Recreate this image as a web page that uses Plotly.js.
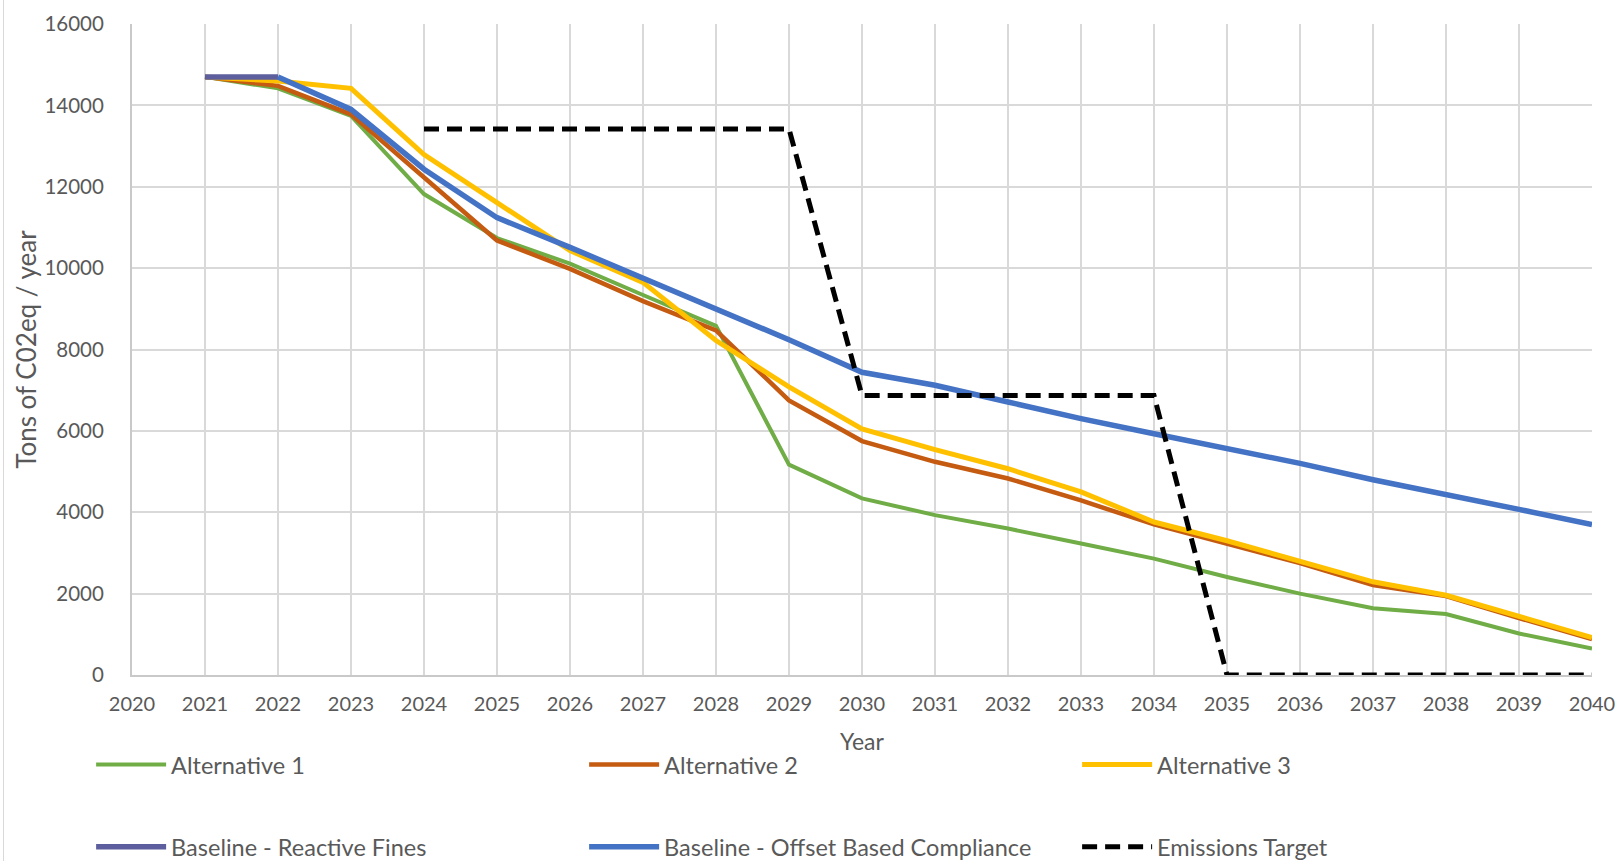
<!DOCTYPE html>
<html>
<head>
<meta charset="utf-8">
<script src="https://cdn.plot.ly/plotly-3.0.1.min.js"></script>
<style>
  html, body { margin: 0; padding: 0; background: #ffffff; }
  #chart { width: 1621px; height: 861px; position: relative; }
  #frame { position: absolute; left: 3px; top: 0; width: 1px; height: 861px; background: #d9d9d9; }
</style>
</head>
<body>
<div id="chart"></div>
<div id="frame"></div>
<script>
const years = [2021,2022,2023,2024,2025,2026,2027,2028,2029,2030,2031,2032,2033,2034,2035,2036,2037,2038,2039,2040];

const alternative1 = [14700,14420,13740,11820,10740,10110,9340,8580,5170,4340,3930,3600,3230,2860,2410,2000,1640,1500,1020,650];
const alternative2 = [14700,14480,13780,12230,10680,9980,9190,8470,6750,5750,5240,4830,4290,3700,3230,2750,2210,1940,1400,880];
const alternative3 = [14700,14600,14420,12790,11610,10430,9650,8220,7080,6050,5540,5070,4500,3760,3300,2780,2290,1960,1430,920];
const baselineReactive = [14700,14700,null,null,null,null,null,null,null,null,null,null,null,null,null,null,null,null,null,null];
const baselineOffset = [null,14700,13900,12430,11240,10510,9750,9020,8240,7440,7120,6710,6300,5930,5580,5200,4800,4420,4070,3700];
const emissionsTarget = [null,null,null,13420,13420,13420,13420,13420,13420,6870,6870,6870,6870,6870,0,0,0,0,0,0];

const seriesNames = ["Alternative 1","Alternative 2","Alternative 3","Baseline - Reactive Fines","Baseline - Offset Based Compliance","Emissions Target"];
const xTickVals = [2020,2021,2022,2023,2024,2025,2026,2027,2028,2029,2030,2031,2032,2033,2034,2035,2036,2037,2038,2039,2040];
const yTickVals = [0,2000,4000,6000,8000,10000,12000,14000,16000];

const fontFamily = "Lato, 'Open Sans', 'Liberation Sans', sans-serif";
const textColor = "#595959";

const traces = [
  {x: years, y: alternative1, name: seriesNames[0], legend: "legend",
   line: {color: "#70ad47", width: 4}},
  {x: years, y: alternative2, name: seriesNames[1], legend: "legend",
   line: {color: "#c55a11", width: 4.5}},
  {x: years, y: alternative3, name: seriesNames[2], legend: "legend",
   line: {color: "#ffc000", width: 5}},
  {x: years, y: baselineReactive, name: seriesNames[3], legend: "legend2",
   line: {color: "#5d5e9e", width: 5.5}},
  {x: years, y: baselineOffset, name: seriesNames[4], legend: "legend2",
   line: {color: "#4472c4", width: 5.5}},
  {x: years, y: emissionsTarget, name: seriesNames[5], legend: "legend2",
   line: {color: "#000000", width: 5, dash: "15px,8px"}}
].map(t => Object.assign({type: "scatter", mode: "lines", hoverinfo: "x+y+name"}, t));

const legendCommon = {
  orientation: "h",
  xref: "paper", yref: "paper",
  xanchor: "left", yanchor: "middle",
  x: -0.028,
  font: {family: fontFamily, size: 23.5, color: textColor},
  bgcolor: "rgba(0,0,0,0)",
  borderwidth: 0,
  itemwidth: 70,
  entrywidthmode: "pixels",
  entrywidth: 408,
  traceorder: "normal",
  itemclick: false, itemdoubleclick: false
};

const layout = {
  width: 1621, height: 861,
  paper_bgcolor: "#ffffff", plot_bgcolor: "#ffffff",
  margin: {l: 132, r: 29, t: 24, b: 186, autoexpand: false},
  font: {family: fontFamily, color: textColor},
  showlegend: true,
  xaxis: {
    range: [2020, 2040],
    tickmode: "array", tickvals: xTickVals, ticktext: xTickVals.map(String),
    showgrid: true, gridcolor: "#d9d9d9", gridwidth: 2,
    showline: true, linecolor: "#c9c9c9", linewidth: 2,
    zeroline: false, ticks: "",
    ticklabelstandoff: 10,
    tickfont: {family: fontFamily, size: 20, color: textColor},
    title: {text: "Year", font: {family: fontFamily, size: 23, color: textColor}, standoff: 20}
  },
  yaxis: {
    range: [0, 16000],
    tickmode: "array", tickvals: yTickVals, ticktext: yTickVals.map(String),
    showgrid: true, gridcolor: "#d9d9d9", gridwidth: 2,
    showline: true, linecolor: "#c9c9c9", linewidth: 2,
    zeroline: false, ticks: "",
    ticklabelstandoff: 22,
    tickfont: {family: fontFamily, size: 20.5, color: textColor},
    title: {text: "Tons of C02eq / year", font: {family: fontFamily, size: 26, color: textColor}, standoff: 0}
  },
  legend: Object.assign({}, legendCommon, {y: -0.138}),
  legend2: Object.assign({}, legendCommon, {y: -0.264})
};

Plotly.newPlot("chart", traces, layout, {displayModeBar: false, responsive: false});
</script>
</body>
</html>
